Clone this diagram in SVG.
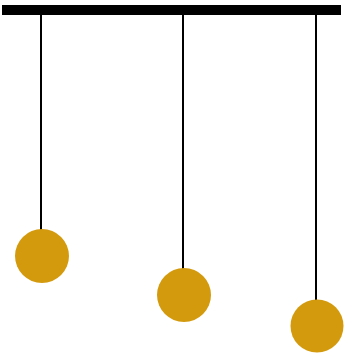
<svg xmlns="http://www.w3.org/2000/svg" width="347" height="354" viewBox="0 0 347 354">
<style>
.string{stroke:#000;stroke-width:2}
.ball{fill:#D49A0E}
</style>
<rect width="347" height="354" fill="#fff"/>
<g id="connectors">
<line class="string" x1="41" y1="10" x2="41" y2="230"/>
<line class="string" x1="183" y1="10" x2="183" y2="270"/>
<line class="string" x1="316" y1="10" x2="316" y2="302"/>
</g>
<g id="bar"><rect x="2" y="5" width="339" height="10" fill="#000"/></g>
<g id="ball1"><circle class="ball" cx="42" cy="256" r="27"/></g>
<g id="ball2"><circle class="ball" cx="184" cy="295" r="27"/></g>
<g id="ball3"><circle class="ball" cx="317" cy="326" r="26.5"/></g>
</svg>
